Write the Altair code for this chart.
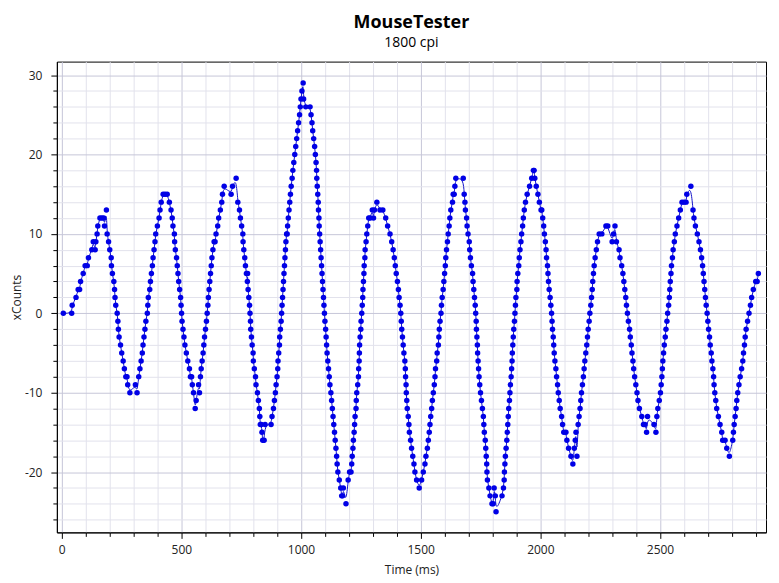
import altair as alt
import pandas as pd

# (time in ms, xCounts) samples, grouped by wave
wave_a = [(7, 0), (42, 0), (44, 1), (60, 2), (69, 3), (75, 3), (79, 4), (90, 5), (98, 6), (107, 6),
          (112, 7), (126, 8), (132, 9), (140, 8), (143, 9), (148, 10), (151, 11), (160, 12), (168, 12),
          (176, 12), (179, 11), (187, 13), (190, 10), (196, 9), (201, 8), (207, 7), (208, 6), (212, 5),
          (218, 4), (221, 3), (223, 2), (226, 1), (232, 0), (235, -1), (237, -2), (240, -3), (246, -4),
          (251, -5), (257, -6), (262, -7), (268, -8), (273, -8), (276, -9), (285, -10)]
wave_b = [(308, -9), (315, -10), (322, -8), (327, -7), (332, -6), (337, -5), (340, -4), (344, -3),
          (348, -2), (352, -1), (358, 0), (360, 1), (362, 2), (368, 3), (371, 4), (375, 5), (379, 6),
          (382, 7), (386, 8), (390, 9), (393, 10), (400, 11), (407, 12), (411, 13), (416, 14), (424, 15),
          (432, 15), (441, 15), (450, 14), (457, 13), (462, 12), (465, 11), (471, 10), (472, 9), (475, 8),
          (480, 7), (483, 6), (486, 5), (489, 4), (493, 3), (497, 2), (499, 1), (501, 0), (503, -1),
          (507, -2), (511, -3), (515, -4), (521, -5), (527, -6), (534, -7), (538, -8), (543, -8), (546, -9),
          (551, -10), (558, -12), (562, -11), (572, -9), (576, -10), (580, -8), (583, -7), (587, -6),
          (591, -5), (594, -4), (597, -3), (601, -2), (605, -1), (608, 0), (611, 1)]
wave_c = [(613, 2), (616, 3), (619, 4), (622, 5), (625, 6), (628, 7), (632, 8), (637, 9), (641, 9),
          (645, 10), (652, 11), (656, 12), (663, 13), (669, 14), (672, 15), (679, 16), (708, 15), (714, 16),
          (729, 17), (736, 14), (743, 13), (747, 12), (752, 11), (757, 10), (758, 9), (761, 8), (765, 7),
          (768, 6), (772, 5), (776, 4), (777, 5), (779, 3), (782, 2), (785, 1), (787, 0), (789, -1),
          (790, -2), (793, -3), (796, -4), (800, -5), (801, -6), (805, -7), (810, -8), (812, -9), (818, -10),
          (822, -11), (826, -12), (828, -13), (830, -14), (834, -14), (837, -15), (840, -16), (846, -16),
          (850, -14), (875, -14), (879, -13), (885, -12), (889, -11), (893, -10), (896, -9), (900, -8),
          (903, -7), (904, -6), (907, -5), (910, -4), (911, -3), (914, -2), (917, -1), (919, 0)]
wave_d = [(921, 1), (923, 2), (925, 3), (927, 4), (929, 5), (931, 6), (933, 7), (935, 8), (937, 9),
          (940, 10), (942, 10), (944, 11), (947, 12), (950, 13), (953, 14), (956, 15), (959, 16), (963, 17),
          (966, 18), (970, 19), (974, 20), (978, 21), (982, 22), (986, 23), (990, 24), (994, 25), (997, 26),
          (1000, 27), (1004, 28), (1009, 29), (1011, 27), (1020, 26), (1038, 26), (1042, 25), (1046, 24),
          (1049, 23), (1053, 22), (1057, 21), (1060, 20), (1063, 19), (1065, 18), (1066, 17), (1068, 16),
          (1070, 15), (1072, 14), (1073, 13), (1075, 12), (1076, 11), (1078, 10), (1080, 9), (1082, 8),
          (1084, 7), (1086, 6), (1088, 5), (1090, 4), (1092, 3), (1094, 2), (1096, 1), (1098, 0),
          (1100, -1), (1103, -2), (1105, -3), (1107, -4), (1109, -5), (1112, -6), (1115, -7), (1118, -8),
          (1121, -9), (1125, -10), (1128, -11), (1131, -12), (1134, -13), (1137, -14), (1140, -15),
          (1143, -16), (1146, -17), (1149, -18), (1151, -19), (1154, -20), (1160, -21), (1166, -22),
          (1170, -23), (1174, -23), (1177, -22), (1188, -24)]
wave_e = [(1197, -21), (1203, -20), (1209, -20), (1212, -19), (1214, -18), (1217, -17), (1219, -16),
          (1222, -15), (1224, -14), (1226, -13), (1230, -12), (1231, -11), (1233, -10), (1237, -9),
          (1240, -8), (1241, -7), (1243, -6), (1244, -5), (1245, -4), (1247, -3), (1250, -2), (1251, -1),
          (1254, 0), (1256, 1), (1258, 2), (1259, 3), (1261, 4), (1263, 5), (1264, 6), (1267, 7), (1268, 8),
          (1272, 9), (1275, 10), (1279, 11), (1283, 12), (1289, 12), (1298, 13), (1303, 12), (1307, 13),
          (1317, 14), (1330, 13), (1342, 13), (1354, 12), (1362, 11), (1372, 10), (1379, 9), (1385, 8),
          (1390, 7), (1394, 6), (1398, 5), (1403, 4), (1407, 3), (1410, 2), (1414, 1), (1417, 0),
          (1419, -1), (1421, -2), (1424, -3), (1427, -4), (1430, -5), (1434, -6), (1436, -7), (1437, -8),
          (1439, -9), (1440, -10), (1442, -11), (1444, -12), (1448, -13), (1451, -14), (1453, -15),
          (1458, -16), (1462, -17), (1467, -18), (1472, -19), (1476, -20), (1483, -21), (1494, -22)]
wave_f = [(1504, -21), (1511, -20), (1518, -19), (1522, -18), (1528, -17), (1532, -16), (1536, -15),
          (1539, -14), (1542, -13), (1546, -12), (1549, -11), (1553, -10), (1557, -9), (1560, -8),
          (1562, -7), (1567, -6), (1569, -5), (1574, -4), (1576, -3), (1578, -2), (1581, -1), (1585, 0),
          (1587, 1), (1590, 2), (1594, 3), (1597, 4), (1600, 5), (1603, 6), (1605, 7), (1608, 8), (1612, 9),
          (1615, 10), (1619, 11), (1622, 12), (1626, 13), (1633, 14), (1636, 15), (1640, 15), (1643, 16),
          (1647, 17), (1678, 17), (1682, 15), (1685, 14), (1687, 13), (1692, 12), (1694, 11), (1698, 10),
          (1703, 9), (1705, 8), (1708, 7), (1712, 6), (1717, 5), (1719, 4), (1722, 3), (1725, 2), (1728, 1),
          (1730, 0), (1732, -1), (1733, -2), (1735, -3), (1737, -4), (1738, -5), (1740, -6), (1742, -7),
          (1744, -8), (1747, -9), (1750, -10), (1754, -11), (1758, -12), (1762, -13), (1764, -14),
          (1766, -15), (1770, -16), (1772, -17), (1774, -18), (1776, -19), (1777, -20), (1779, -21),
          (1785, -22), (1790, -23), (1798, -24), (1803, -24), (1807, -22), (1812, -23), (1815, -25),
          (1840, -23)]
wave_g = [(1846, -22), (1849, -21), (1850, -20), (1852, -19), (1854, -18), (1857, -17), (1860, -16),
          (1862, -15), (1864, -14), (1866, -13), (1868, -12), (1871, -11), (1873, -10), (1875, -9),
          (1878, -8), (1880, -7), (1882, -6), (1883, -5), (1885, -4), (1887, -3), (1889, -2), (1892, -1),
          (1894, 0), (1896, 1), (1898, 2), (1902, 3), (1903, 4), (1906, 5), (1910, 6), (1912, 7), (1915, 8),
          (1919, 9), (1922, 10), (1926, 11), (1929, 12), (1933, 13), (1938, 14), (1945, 15), (1955, 16),
          (1964, 17), (1971, 18), (1974, 18), (1977, 17), (1983, 16), (1990, 15), (1996, 14), (2003, 13),
          (2006, 13), (2010, 12), (2014, 11), (2017, 10), (2021, 9), (2024, 8), (2026, 7), (2030, 6),
          (2032, 5), (2034, 4), (2037, 3), (2041, 2), (2044, 1), (2047, 0), (2049, -1), (2051, -2),
          (2054, -3), (2056, -4), (2058, -5), (2061, -6), (2065, -7), (2068, -8), (2072, -9), (2075, -10),
          (2079, -11), (2083, -12), (2089, -13), (2093, -14), (2098, -15), (2107, -15), (2111, -16),
          (2118, -17), (2128, -18), (2136, -19), (2142, -17), (2146, -16), (2149, -15), (2153, -18)]
wave_h = [(2158, -14), (2162, -13), (2166, -12), (2169, -11), (2172, -10), (2176, -9), (2180, -8),
          (2183, -7), (2186, -6), (2190, -5), (2194, -4), (2197, -3), (2200, -2), (2204, -1), (2207, 0),
          (2211, 1), (2214, 2), (2217, 3), (2219, 4), (2222, 5), (2225, 6), (2229, 7), (2234, 8), (2239, 9),
          (2246, 10), (2257, 10), (2274, 11), (2282, 11), (2300, 9), (2306, 10), (2312, 11), (2318, 9),
          (2329, 8), (2333, 7), (2340, 6), (2345, 5), (2349, 4), (2353, 3), (2357, 2), (2360, 1), (2364, 0),
          (2368, -1), (2373, -2), (2376, -3), (2380, -4), (2383, -5), (2387, -6), (2390, -7), (2394, -8),
          (2399, -9), (2404, -10), (2408, -11), (2414, -12), (2424, -13), (2431, -14), (2437, -14),
          (2444, -15), (2448, -13), (2475, -14), (2483, -15), (2487, -13), (2491, -12), (2497, -11),
          (2502, -10)]
wave_i = [(2505, -9), (2508, -8), (2510, -7), (2512, -6), (2515, -5), (2518, -4), (2522, -3), (2525, -2),
          (2529, -1), (2532, 0), (2536, 1), (2539, 2), (2541, 3), (2543, 4), (2546, 5), (2548, 6), (2552, 7),
          (2555, 8), (2560, 9), (2564, 10), (2571, 11), (2578, 12), (2585, 13), (2592, 14), (2601, 14),
          (2609, 14), (2612, 15), (2629, 16), (2638, 13), (2642, 12), (2648, 11), (2656, 10), (2663, 9),
          (2669, 8), (2674, 7), (2678, 6), (2681, 5), (2684, 4), (2687, 3), (2690, 2), (2693, 1), (2697, 0),
          (2700, -1), (2703, -2), (2707, -3), (2710, -4), (2714, -5), (2717, -6), (2721, -7), (2724, -8),
          (2726, -9), (2729, -10), (2733, -11), (2737, -12), (2744, -13), (2751, -14), (2758, -15),
          (2762, -16), (2772, -16), (2779, -17), (2790, -18)]
wave_j = [(2804, -16), (2807, -15), (2810, -14), (2814, -13), (2818, -12), (2821, -11), (2825, -10),
          (2830, -9), (2835, -8), (2841, -7), (2846, -6), (2849, -5), (2853, -4), (2856, -3), (2860, -2),
          (2866, -1), (2872, 0), (2878, 1), (2883, 2), (2890, 3), (2900, 4), (2906, 4), (2911, 5)]

x_tick_values = list(range(0, 3000, 100))
y_tick_values = list(range(-26, 32, 2))
x_domain = [-20, 2943]
y_domain = [-27.6, 31.7]

samples = wave_a + wave_b + wave_c + wave_d + wave_e + wave_f + wave_g + wave_h + wave_i + wave_j
df = pd.DataFrame(samples, columns=["time", "xcounts"])

FONT = "Open Sans"
MAJOR_GRID = "#c6c6d8"
MINOR_GRID = "#e2e2ec"

x_axis = alt.Axis(
    title="Time (ms)",
    values=x_tick_values,
    labelExpr="datum.value % 500 === 0 ? '' + datum.value : ''",
    labelFlush=False,
    labelOverlap=False,
    grid=True,
    gridColor={"condition": {"test": "datum.value % 500 === 0", "value": MAJOR_GRID}, "value": MINOR_GRID},
    tickSize={"condition": {"test": "datum.value % 500 === 0", "value": 6}, "value": 4},
    labelPadding=6,
    titlePadding=9,
)
y_axis = alt.Axis(
    title="xCounts",
    values=y_tick_values,
    labelExpr="datum.value % 10 === 0 ? '' + datum.value : ''",
    labelFlush=False,
    labelOverlap=False,
    grid=True,
    gridColor={"condition": {"test": "datum.value % 10 === 0", "value": MAJOR_GRID}, "value": MINOR_GRID},
    tickSize={"condition": {"test": "datum.value % 10 === 0", "value": 6}, "value": 4},
    labelPadding=9,
    titlePadding=1,
)

x_enc = alt.X("time:Q", scale=alt.Scale(domain=x_domain, nice=False, zero=False), axis=x_axis)
y_enc = alt.Y("xcounts:Q", scale=alt.Scale(domain=y_domain, nice=False, zero=False), axis=y_axis)

base = alt.Chart(df)
line = base.mark_line(color="#1414c8", strokeWidth=1, interpolate="basis").encode(x=x_enc, y=y_enc)
points = base.mark_circle(size=30, color="#0000e6", opacity=1).encode(x=x_enc, y=y_enc)

chart = (
    alt.layer(line, points)
    .properties(
        width=711,
        height=472,
        title=alt.TitleParams(
            text="MouseTester",
            subtitle="1800 cpi",
            font=FONT,
            fontSize=18,
            fontWeight="bold",
            color="black",
            subtitleFont=FONT,
            subtitleFontSize=14,
            subtitleColor="black",
            subtitlePadding=4,
            anchor="middle",
            offset=12,
        ),
        padding={"left": 49, "top": 53, "right": 5, "bottom": 48},
        autosize=alt.AutoSizeParams(type="none"),
    )
    .configure_view(stroke="black", strokeWidth=1)
    .configure_axis(
        domainColor="black",
        domainWidth=1,
        tickColor="black",
        tickWidth=1,
        labelFont=FONT,
        labelFontSize=12,
        labelColor="#222222",
        titleFont=FONT,
        titleFontSize=12,
        titleFontWeight="normal",
        titleColor="#222222",
        gridWidth=1,
    )
)

chart.save("out.html", embed_options={"renderer": "svg", "actions": False})
